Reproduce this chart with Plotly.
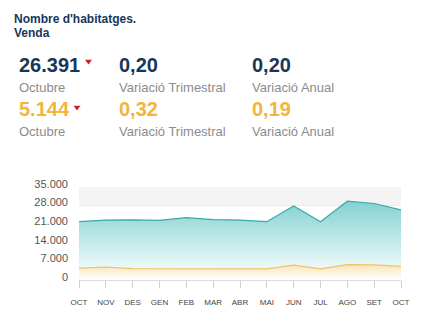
import plotly.graph_objects as go

months = ["OCT", "NOV", "DES", "GEN", "FEB", "MAR", "ABR", "MAI", "JUN", "JUL", "AGO", "SET", "OCT"]
total = [21950, 22560, 22640, 22450, 23470, 22750, 22560, 21950, 27890, 21950, 29670, 28800, 26391]
second = [4450, 4830, 4300, 4300, 4300, 4180, 4300, 4180, 5590, 4180, 5820, 5700, 5144]
y_ticks = [0, 7000, 14000, 21000, 28000, 35000]

title_lines = ["Nombre d'habitatges.", "Venda"]
row1 = ["26.391", "Octubre", "0,20", "Variació Trimestral", "0,20", "Variació Anual"]
row2 = ["5.144", "Octubre", "0,32", "Variació Trimestral", "0,19", "Variació Anual"]

W, H = 437, 323
L, R, T, B = 79, 36, 187, 43
PW, PH = W - L - R, H - T - B
NAVY = "#17375a"
YEL = "#f2b53c"
GRAY = "#8c8c8c"
FONT = "Liberation Sans, Arial, sans-serif"


def px(x):
    return (x - L) / PW


def py(y):
    return (H - B - y) / PH


xs = list(range(len(months)))

fig = go.Figure()
fig.add_trace(go.Scatter(
    x=xs, y=total, mode="lines", line=dict(color="#3aa9a9", width=1.2),
    fill="tozeroy",
    fillgradient=dict(type="vertical", colorscale=[[0, "rgba(255,255,255,0.95)"], [1, "rgba(125,207,207,0.95)"]]),
    hoverinfo="skip", showlegend=False))
fig.add_trace(go.Scatter(
    x=xs, y=second, mode="lines", line=dict(color="#f0c468", width=1.2),
    fill="tozeroy",
    fillgradient=dict(type="vertical", colorscale=[[0, "rgba(255,255,255,1)"], [1, "rgba(250,228,185,1)"]]),
    hoverinfo="skip", showlegend=False))

fig.add_shape(type="rect", xref="paper", yref="y", x0=0, x1=1, y0=28000, y1=35000,
              fillcolor="#f4f4f4", line_width=0, layer="below")

# small red down-triangles next to the current values
for (cx, cy) in [(88.5, 62), (77, 108)]:
    pts = [(cx - 3.5, cy - 2.2), (cx + 3.5, cy - 2.2), (cx, cy + 2.5)]
    path = "M %f,%f L %f,%f L %f,%f Z" % tuple(v for p in pts for v in (px(p[0]), py(p[1])))
    fig.add_shape(type="path", xref="paper", yref="paper", path=path,
                  fillcolor="#c9222b", line_width=0)

ann = []


def text(x, y, s, size, color, bold=False):
    ann.append(dict(x=px(x), y=py(y), xref="paper", yref="paper", text=("<b>%s</b>" % s) if bold else s,
                    showarrow=False, xanchor="left", yanchor="middle",
                    font=dict(family=FONT, size=size, color=color)))


text(12, 19, title_lines[0], 12, NAVY, True)
text(12, 33, title_lines[1], 12, NAVY, True)

cols = [17, 117, 250]
for i, c in enumerate(cols):
    text(c, 65, row1[2 * i], 20, NAVY, True)
    text(c, 87, row1[2 * i + 1], 13, GRAY)
    text(c, 109, row2[2 * i], 20, YEL, True)
    text(c, 131, row2[2 * i + 1], 13, GRAY)

fig.update_layout(
    width=W, height=H, margin=dict(l=L, r=R, t=T, b=B, pad=0),
    paper_bgcolor="white", plot_bgcolor="white",
    separators=",.",
    annotations=ann,
    font=dict(family=FONT),
    xaxis=dict(range=[0, len(months) - 1], tickvals=xs, ticktext=months, showgrid=False,
               zeroline=False, showline=True, linecolor="#dddddd", linewidth=1,
               ticks="outside", ticklen=7, tickcolor="#d0d0d0", tickwidth=1,
               ticklabelstandoff=7,
               tickfont=dict(family=FONT, size=8, color="#444444")),
    yaxis=dict(range=[0, 35000], tickvals=y_ticks, tickformat=",d", showgrid=True,
               gridcolor="#ececec", gridwidth=1, zeroline=False, showline=False,
               ticks="", ticklabelstandoff=10, ticklabelshift=-3,
               tickfont=dict(family=FONT, size=11, color="#555555")),
)

fig.write_html("out.html")
